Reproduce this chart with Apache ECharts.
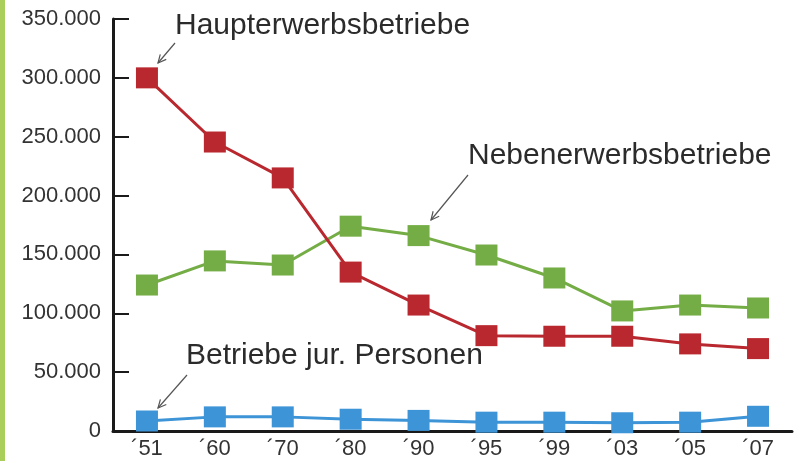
<!DOCTYPE html>
<html>
<head>
<meta charset="utf-8">
<script src="https://cdn.jsdelivr.net/npm/echarts@6/dist/echarts.min.js"></script>
<style>
  html, body { margin: 0; padding: 0; background: #fff; }
  #chart { width: 798px; height: 461px; }
  #bar { position: absolute; left: 0; top: 0; width: 5px; height: 461px; background: #a9cf5a; }
</style>
</head>
<body>
<div id="bar"></div>
<div id="chart"></div>
<script>
// Jahre (Kategorien)
const years = ['\u00b451', '\u00b460', '\u00b470', '\u00b480', '\u00b490', '\u00b495', '\u00b499', '\u00b403', '\u00b405', '\u00b407'];
// Anzahl Betriebe
const haupterwerb = [300000, 245500, 215000, 135000, 107000, 81000, 80500, 80500, 74000, 70000];
const nebenerwerb = [124000, 144500, 141000, 174000, 166000, 149500, 130000, 102000, 107000, 104500];
const jurPersonen = [8500, 12000, 12000, 10000, 9000, 7500, 7500, 7000, 7500, 12500];
const yTicks = [0, 50000, 100000, 150000, 200000, 250000, 300000, 350000];

const chart = echarts.init(document.getElementById('chart'));
const font = 'Liberation Sans, Arial, sans-serif';

function fmt(v) {
  return v === 0 ? '0' : (v / 1000).toFixed(0) + '.000';
}

function lineSeries(name, data, color) {
  return {
    name: name,
    type: 'line',
    data: data,
    symbol: 'rect',
    symbolSize: [22, 21],
    itemStyle: { color: color },
    lineStyle: { color: color, width: 3 },
    animation: false
  };
}

// annotation: text + thin arrow
function note(text, tx, ty, x1, y1, x2, y2) {
  const ang = Math.atan2(y2 - y1, x2 - x1);
  const len = 9, spread = 0.45;
  return [
    {
      type: 'text', left: tx, top: ty,
      style: { text: text, font: '30px ' + font, fill: '#2b2b2b' }
    },
    {
      type: 'polyline',
      shape: { points: [[x1, y1], [x2, y2]] },
      style: { stroke: '#555', lineWidth: 1.2, fill: null }
    },
    {
      type: 'polyline',
      shape: { points: [
        [x2 - len * Math.cos(ang - spread), y2 - len * Math.sin(ang - spread)],
        [x2, y2],
        [x2 - len * Math.cos(ang + spread), y2 - len * Math.sin(ang + spread)]
      ] },
      style: { stroke: '#555', lineWidth: 1.2, fill: null }
    }
  ];
}

chart.setOption({
  animation: false,
  grid: { left: 113, right: 6, top: 19, bottom: 30 },
  xAxis: {
    type: 'category',
    data: years,
    boundaryGap: true,
    axisLine: { lineStyle: { color: '#1a1a1a', width: 3 } },
    axisTick: { show: false },
    axisLabel: { color: '#333', fontSize: 22, fontFamily: font, margin: 7 }
  },
  yAxis: {
    type: 'value',
    min: 0,
    max: 350000,
    interval: 50000,
    splitLine: { show: false },
    axisLine: { show: true, lineStyle: { color: '#1a1a1a', width: 3 } },
    axisTick: { show: true, inside: true, length: 16, lineStyle: { color: '#1a1a1a', width: 2 } },
    axisLabel: {
      color: '#333', fontSize: 22, fontFamily: font, margin: 12,
      formatter: function (v) { return yTicks.indexOf(v) >= 0 ? fmt(v) : ''; }
    }
  },
  series: [
    lineSeries('Nebenerwerbsbetriebe', nebenerwerb, '#74ad45'),
    lineSeries('Haupterwerbsbetriebe', haupterwerb, '#b9282e'),
    lineSeries('Betriebe jur. Personen', jurPersonen, '#3d94d6')
  ],
  graphic: [].concat(
    note('Haupterwerbsbetriebe', 175, 11, 175, 43, 158, 63),
    note('Nebenerwerbsbetriebe', 468, 141, 468, 175, 431, 220),
    note('Betriebe jur. Personen', 186, 341, 187, 375, 158, 408)
  )
});
</script>
</body>
</html>
